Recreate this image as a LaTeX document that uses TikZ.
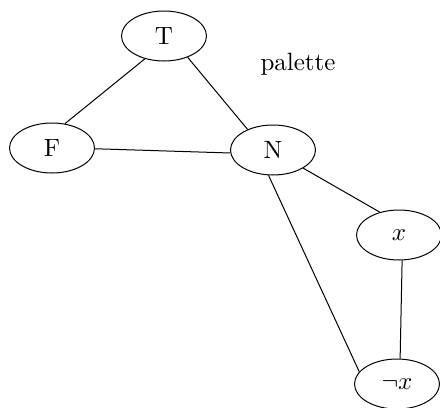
\documentclass[tikz,border=0pt]{standalone}
\usetikzlibrary{shapes.geometric}

\begin{document}
\begin{tikzpicture}[
    x=0.4pt, y=-0.4pt,
    every node/.style={
        ellipse, draw,
        minimum width=34pt,
        minimum height=20pt,
        align=center
    }
]
\useasboundingbox (0,0) rectangle (440,407);
\node (T)  at (164,36)  {T};
\node (F)  at (52,148)  {F};
\node (N)  at (273,150) {N};
\node (x)  at (399,235) {$x$};
\node (nx) at (397,384) {$\neg x$};
\node[draw=none] (pal) at (298,64) {palette};

% edges leave the ellipses at fixed angles
\draw (T.230) -- (F.62);
\draw (T.318) -- (N.141);
\draw (F.359) -- (N.184);
\draw (N.329) -- (x.130);
\draw (N.260) -- (nx.162);
\draw (x.277) -- (nx.83);
\end{tikzpicture}
\end{document}
